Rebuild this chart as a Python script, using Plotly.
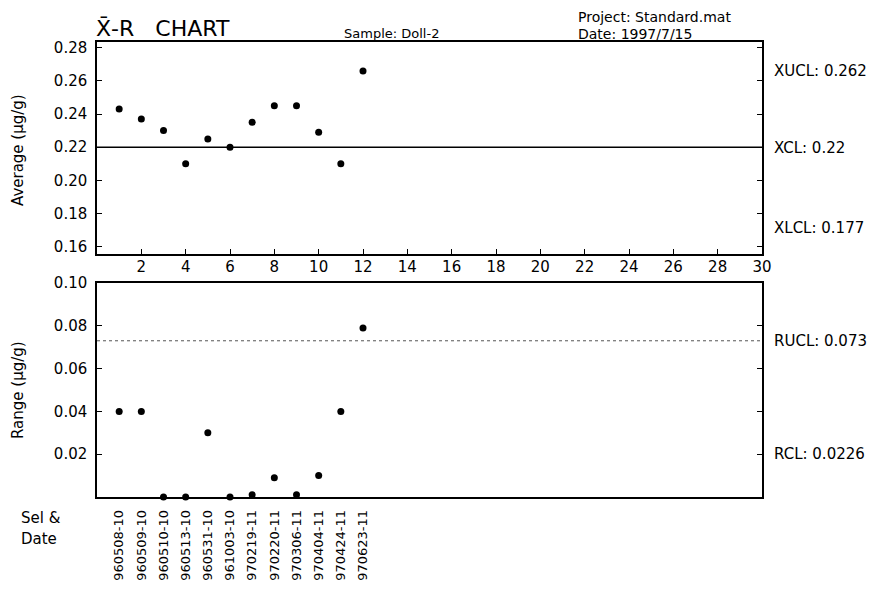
import plotly.graph_objects as go

W, H = 880, 595
OFF = 8  # page body margin of the browser

samples = list(range(1, 13))
averages = [0.243, 0.237, 0.230, 0.210, 0.225, 0.220, 0.235, 0.245, 0.245, 0.229, 0.210, 0.266]
ranges = [0.040, 0.040, 0.000, 0.000, 0.030, 0.000, 0.001, 0.009, 0.001, 0.010, 0.040, 0.079]
sel_dates = ["960508-10", "960509-10", "960510-10", "960513-10", "960531-10", "961003-10",
             "970219-11", "970220-11", "970306-11", "970404-11", "970424-11", "970623-11"]

xcl, xucl, xlcl = 0.22, 0.262, 0.177
rcl, rucl = 0.0226, 0.073

FONT = "DejaVu Sans"

def px(x):
    return (x - OFF) / W

def py(y):
    return 1 - (y - OFF) / H

fig = go.Figure()

fig.add_trace(go.Scatter(x=[0, 30], y=[xcl, xcl], mode="lines",
                         line=dict(color="black", width=1.5), xaxis="x", yaxis="y",
                         hoverinfo="skip"))
fig.add_trace(go.Scatter(x=[0, 30], y=[rucl, rucl], mode="lines",
                         line=dict(color="#555555", width=1, dash="dot"), xaxis="x2", yaxis="y2",
                         hoverinfo="skip"))

fig.add_trace(go.Scatter(x=samples, y=averages, mode="markers",
                         marker=dict(color="black", size=7), xaxis="x", yaxis="y"))
fig.add_trace(go.Scatter(x=samples, y=ranges, mode="markers",
                         marker=dict(color="black", size=7), xaxis="x2", yaxis="y2",
                         cliponaxis=False))

axis_common = dict(showline=True, linecolor="black", linewidth=1.5, showgrid=False,
                   zeroline=False, ticks="inside", tickcolor="black", ticklen=5,
                   automargin=False,
                   tickfont=dict(family=FONT, size=15, color="black"))

fig.update_layout(
    width=W, height=H,
    margin=dict(l=0, r=0, t=0, b=0, autoexpand=False),
    paper_bgcolor="white", plot_bgcolor="white",
    showlegend=False,
    xaxis=dict(domain=[px(97), px(762)], range=[0, 30], anchor="y",
               tickvals=list(range(2, 31, 2)), mirror=True, ticklabelstandoff=-2,
               **axis_common),
    yaxis=dict(domain=[py(254), py(42)], range=[0.1555, 0.2835], anchor="x",
               tickvals=[0.16, 0.18, 0.20, 0.22, 0.24, 0.26, 0.28],
               tickformat=".2f", mirror="ticks", ticklabelstandoff=5,
               **axis_common),
    xaxis2=dict(domain=[px(97), px(762)], range=[0, 30], anchor="y2",
                tickvals=samples, ticktext=sel_dates, tickangle=-90, mirror=True,
                showline=True, linecolor="black", linewidth=1.5, showgrid=False,
                zeroline=False, ticks="", ticklabelstandoff=6, automargin=False,
                tickfont=dict(family=FONT, size=13, color="black")),
    yaxis2=dict(domain=[py(497), py(283)], range=[0, 0.10], anchor="x2",
                tickvals=[0.02, 0.04, 0.06, 0.08, 0.10],
                tickformat=".2f", mirror="ticks", ticklabelstandoff=5,
                **axis_common),
)

ann = [
    dict(text="X̄-R   CHART", x=px(95), y=py(29), size=22, ya="middle"),
    dict(text="Sample: Doll-2", x=px(343), y=py(34), size=13, ya="middle"),
    dict(text="Project: Standard.mat", x=px(577), y=py(8), size=14, ya="top"),
    dict(text="Date: 1997/7/15", x=px(577), y=py(34), size=14, ya="middle"),
    dict(text=f"XUCL: {xucl}", x=px(773), y=py(71), size=15, ya="middle"),
    dict(text=f"XCL: {xcl}", x=px(773), y=py(148), size=15, ya="middle"),
    dict(text=f"XLCL: {xlcl}", x=px(773), y=py(228), size=15, ya="middle"),
    dict(text=f"RUCL: {rucl}", x=px(773), y=py(341), size=15, ya="middle"),
    dict(text=f"RCL: {rcl}", x=px(773), y=py(454), size=15, ya="middle"),
    dict(text="Sel &", x=px(20), y=py(518), size=15, ya="middle"),
    dict(text="Date", x=px(20), y=py(539), size=15, ya="middle"),
]
annotations = []
for a in ann:
    annotations.append(dict(text=a["text"], x=a["x"], y=a["y"], xref="paper", yref="paper",
                            xanchor="left", yanchor=a["ya"], showarrow=False, borderpad=0,
                            font=dict(family=FONT, size=a["size"], color="black")))
annotations.append(dict(text="Average (μg/g)", x=px(18), y=py(150), xref="paper", yref="paper",
                        textangle=-90, showarrow=False, xanchor="center", yanchor="middle",
                        font=dict(family=FONT, size=15, color="black")))
annotations.append(dict(text="Range (μg/g)", x=px(18), y=py(390), xref="paper", yref="paper",
                        textangle=-90, showarrow=False, xanchor="center", yanchor="middle",
                        font=dict(family=FONT, size=15, color="black")))
fig.update_layout(annotations=annotations)

fig.write_html("out.html")
